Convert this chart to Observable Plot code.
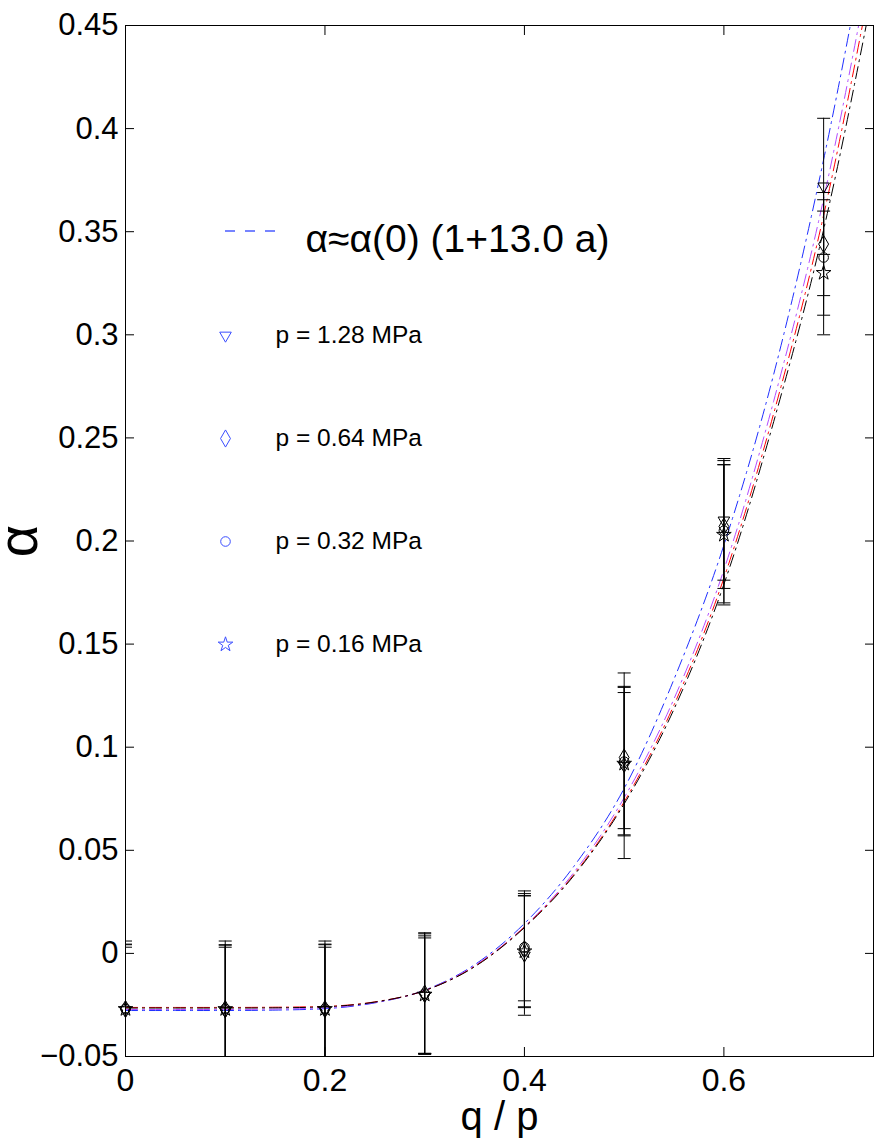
<!DOCTYPE html>
<html>
<head>
<meta charset="utf-8">
<script src="https://cdn.jsdelivr.net/npm/d3@7"></script>
<script src="https://cdn.jsdelivr.net/npm/@observablehq/plot@0.6"></script>
<style>
  html, body { margin: 0; padding: 0; background: #fff; }
  #chart svg { display: block; }
</style>
</head>
<body>
<div id="chart"></div>
<script>
// ---- data ----
const qp = [0, 0.1, 0.2, 0.3, 0.4, 0.5, 0.6, 0.7];
const seriesNames = ["p = 1.28 MPa", "p = 0.64 MPa", "p = 0.32 MPa", "p = 0.16 MPa"];
const alpha128 = [-0.0275, -0.0280, -0.0275, -0.0205, -0.0010, 0.0910, 0.2100, 0.3720];
const alpha064 = [-0.0270, -0.0270, -0.0270, -0.0195, 0.0020, 0.0950, 0.2070, 0.3440];
const alpha032 = [-0.0268, -0.0268, -0.0268, -0.0195, 0.0030, 0.0930, 0.2050, 0.3375];
const alpha016 = [-0.0270, -0.0270, -0.0270, -0.0200, 0.0010, 0.0920, 0.2030, 0.3300];
const err128 = [0.032, 0.032, 0.032, 0.028, 0.029, 0.045, 0.029, 0.033];
const err064 = [0.033, 0.033, 0.033, 0.0295, 0.0283, 0.0345, 0.030, 0.025];
const err032 = [0.031, 0.031, 0.031, 0.029, 0.026, 0.036, 0.035, 0.028];
const err016 = [0.030, 0.030, 0.030, 0.0285, 0.0269, 0.0345, 0.034, 0.030];

const fitX = [0, 0.05, 0.1, 0.15, 0.2, 0.25, 0.3, 0.35, 0.4, 0.45, 0.5, 0.55, 0.6, 0.65, 0.7, 0.75];
const fitBlue   = [-0.0277, -0.0277, -0.0277, -0.0275, -0.0268, -0.0240, -0.0178, -0.0055, 0.0145, 0.0425, 0.0800, 0.1330, 0.1980, 0.2810, 0.3850, 0.5100];
const fitPurple = [-0.0272, -0.0272, -0.0272, -0.0270, -0.0264, -0.0238, -0.0180, -0.0060, 0.0130, 0.0395, 0.0755, 0.1235, 0.1860, 0.2680, 0.3660, 0.4880];
const fitRed    = [-0.0262, -0.0262, -0.0262, -0.0261, -0.0257, -0.0235, -0.0180, -0.0063, 0.0128, 0.0385, 0.0735, 0.1205, 0.1820, 0.2620, 0.3580, 0.4780];
const fitBlack  = [-0.0265, -0.0265, -0.0265, -0.0264, -0.0259, -0.0236, -0.0180, -0.0065, 0.0125, 0.0380, 0.0725, 0.1185, 0.1790, 0.2580, 0.3510, 0.4680];

const legendTitle = "α≈α(0) (1+13.0 a)";
const yTicks = [-0.05, 0, 0.05, 0.1, 0.15, 0.2, 0.25, 0.3, 0.35, 0.4, 0.45];
const yTickLabels = ["−0.05", "0", "0.05", "0.1", "0.15", "0.2", "0.25", "0.3", "0.35", "0.4", "0.45"];
const xTicks = [0, 0.2, 0.4, 0.6];
const xTickLabels = ["0", "0.2", "0.4", "0.6"];

// ---- build tables ----
const seriesValues = [alpha128, alpha064, alpha032, alpha016];
const seriesErrs = [err128, err064, err032, err016];
const symbols = ["triangle", "diamond", "circle", "star"];
const rotations = [180, 0, 0, 0];
const radii = [4.3, 5.2, 4.8, 4.6];

const points = [];
seriesNames.forEach((name, s) => {
  qp.forEach((x, i) => {
    const v = seriesValues[s][i], e = seriesErrs[s][i];
    points.push({series: s, name, x, y: v, lo: v - e, hi: v + e});
  });
});

const fits = [
  {color: "#1f2fff", values: fitBlue},
  {color: "#b24cff", values: fitPurple},
  {color: "#ff0000", values: fitRed},
  {color: "#000000", values: fitBlack}
].map(f => ({color: f.color, data: fitX.map((x, i) => ({x, y: f.values[i]}))}));

const capSymbol = {draw(ctx) { ctx.moveTo(-6.5, 0); ctx.lineTo(6.5, 0); }};

const font = "'Liberation Sans', Arial, Helvetica, sans-serif";
const legendBlue = "#3a4dff";

const marks = [];

// fit curves
fits.forEach(f => {
  marks.push(Plot.line(f.data, {
    x: "x", y: "y", stroke: f.color, strokeWidth: 1,
    strokeDasharray: "12,5,2,5", curve: "monotone-x", clip: true
  }));
});

// error bars
marks.push(Plot.ruleX(points, {x: "x", y1: "lo", y2: "hi", stroke: "#000", strokeWidth: 1, clip: true}));
marks.push(Plot.dot(points, {x: "x", y: "lo", symbol: capSymbol, stroke: "#000", strokeWidth: 1, fill: "none", clip: true}));
marks.push(Plot.dot(points, {x: "x", y: "hi", symbol: capSymbol, stroke: "#000", strokeWidth: 1, fill: "none", clip: true}));

// markers
symbols.forEach((sym, s) => {
  marks.push(Plot.dot(points.filter(d => d.series === s), {
    x: "x", y: "y", symbol: sym, rotate: rotations[s], r: radii[s],
    stroke: "#000", strokeWidth: 1, fill: "none"
  }));
});

// frame and axes
marks.push(Plot.frame({stroke: "#000", strokeWidth: 1}));
marks.push(Plot.axisY(yTicks, {anchor: "left", tickSize: 0, tickPadding: 7, fontSize: 31,
  tickFormat: d => yTickLabels[yTicks.indexOf(d)], label: null}));
marks.push(Plot.axisY(yTicks, {anchor: "left", tickSize: 9, dx: 9, fill: "none", label: null, stroke: "#000"}));
marks.push(Plot.axisY(yTicks, {anchor: "right", tickSize: 9, dx: -9, fill: "none", label: null, stroke: "#000"}));
marks.push(Plot.axisX(xTicks, {anchor: "bottom", tickSize: 0, tickPadding: 12, fontSize: 32,
  tickFormat: d => xTickLabels[xTicks.indexOf(d)], label: null}));
marks.push(Plot.axisX(xTicks, {anchor: "bottom", tickSize: 9, dy: -9, fill: "none", label: null, stroke: "#000"}));
marks.push(Plot.axisX(xTicks, {anchor: "top", tickSize: 9, dy: 9, fill: "none", label: null, stroke: "#000"}));

// axis titles
marks.push(Plot.text(["q / p"], {frameAnchor: "bottom", dy: 61, fontSize: 40, textAnchor: "middle", lineAnchor: "middle", fill: "#000"}));
marks.push(Plot.text(["α"], {frameAnchor: "left", dx: -106, rotate: -90, fontSize: 56, textAnchor: "middle", lineAnchor: "middle", fill: "#000"}));

// legend: dashed sample line (drawn in frame pixels)
marks.push((index, scales, values, dimensions) => {
  const x0 = dimensions.marginLeft + 100, y0 = dimensions.marginTop + 206;
  return d3.create("svg:line")
    .attr("x1", x0).attr("x2", x0 + 50)
    .attr("y1", y0).attr("y2", y0)
    .attr("stroke", "#4a5cff")
    .attr("stroke-width", 1.6)
    .attr("stroke-dasharray", "10,10")
    .node();
});
marks.push(Plot.text([legendTitle], {frameAnchor: "top-left", dx: 180, dy: 214, fontSize: 39,
  textAnchor: "start", lineAnchor: "middle", fill: "#000"}));
seriesNames.forEach((name, s) => {
  const dy = 310 + s * 103;
  marks.push(Plot.dot([name], {frameAnchor: "top-left", dx: 100, dy, symbol: symbols[s], rotate: rotations[s],
    r: radii[s], stroke: legendBlue, strokeWidth: 1, fill: "none"}));
  marks.push(Plot.text([name], {frameAnchor: "top-left", dx: 150, dy, fontSize: 24.5,
    textAnchor: "start", lineAnchor: "middle", fill: "#000"}));
});

const chart = Plot.plot({
  width: 879,
  height: 1140,
  marginLeft: 125,
  marginRight: 6,
  marginTop: 25,
  marginBottom: 84,
  style: {fontFamily: font, background: "#fff", color: "#000"},
  x: {domain: [0, 0.75]},
  y: {domain: [-0.05, 0.45]},
  marks
});
document.getElementById("chart").appendChild(chart);
</script>
</body>
</html>
